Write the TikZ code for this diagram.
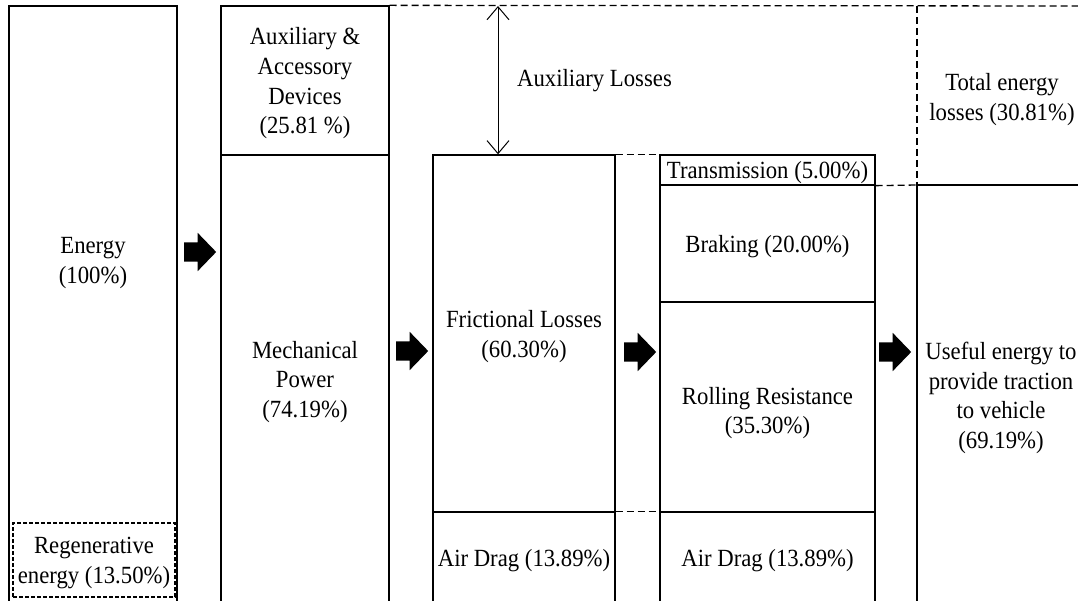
\documentclass[tikz,border=0pt]{standalone}
\usepackage{fontspec}
\setmainfont{Liberation Serif}[FakeStretch=0.92]
\usetikzlibrary{arrows.meta,shapes.arrows}
\newcommand\txtfont{\fontsize{24.7}{29.7}\selectfont}
\begin{document}
\begin{tikzpicture}[x=1pt,y=-1pt,
  box/.style={draw, line width=1.3pt, inner sep=0pt},
  lbl/.style={inner sep=0pt, align=center, font=\txtfont, yshift=-3pt},
  dashline/.style={line width=1.3pt, dash pattern=on 7pt off 4pt},
  solidline/.style={line width=1.3pt},
  fatarrow/.style={single arrow, fill=black, draw=none, minimum height=32pt,
     inner xsep=0pt, inner ysep=9.5pt, single arrow head extend=9.5pt, single arrow tip angle=92},
  barb/.style={line width=1pt, {Straight Barb[length=13pt,width=22pt]}-{Straight Barb[length=13pt,width=22pt]}}]
\clip (0,0) rectangle (1078,601);
\fill[white] (0,0) rectangle (1078,601);
% column 1
\node[box, minimum width=168pt, minimum height=597pt] (energy) at (93,304.5) {};
\node[lbl] (energytxt) at (93,260) {Energy\\(100\%)};
\node[box, dash pattern=on 4pt off 2pt, line width=1.1pt, minimum width=162pt, minimum height=74pt] (regen) at (94,560) {};
\node[lbl] (regentxt) at (regen.center) {Regenerative\\energy (13.50\%)};
% column 2
\node[box, minimum width=168pt, minimum height=149pt] (aux) at (305,80.5) {};
\node[lbl] (auxtxt) at (aux.center) {Auxiliary \&\\Accessory\\Devices\\(25.81 \%)};
\node[box, minimum width=168pt, minimum height=448pt] (mech) at (305,379) {};
\node[lbl] (mechtxt) at (mech.center) {Mechanical\\Power\\(74.19\%)};
% column 3
\node[box, minimum width=182pt, minimum height=357pt] (fric) at (524,333.5) {};
\node[lbl] (frictxt) at (fric.center) {Frictional Losses\\(60.30\%)};
\node[box, minimum width=182pt, minimum height=91pt] (air1) at (524,557.5) {};
\node[lbl] (air1txt) at (air1.center) {Air Drag (13.89\%)};
% column 4
\node[box, minimum width=215pt, minimum height=30pt] (trans) at (767.5,170) {};
\node[lbl] (transtxt) at (trans.center) {Transmission (5.00\%)};
\node[box, minimum width=215pt, minimum height=117pt] (brake) at (767.5,243.5) {};
\node[lbl] (braketxt) at (brake.center) {Braking (20.00\%)};
\node[box, minimum width=215pt, minimum height=210pt] (roll) at (767.5,407) {};
\node[lbl] (rolltxt) at ([yshift=-3pt]roll.center) {Rolling Resistance\\(35.30\%)};
\node[box, minimum width=215pt, minimum height=91pt] (air2) at (767.5,557.5) {};
\node[lbl] (air2txt) at (air2.center) {Air Drag (13.89\%)};
% column 5
\node[lbl] (total) at (1002,96.5) {Total energy\\losses (30.81\%)};
\node[lbl] (useful) at (1001,395) {Useful energy to\\provide traction\\to vehicle\\(69.19\%)};
% auxiliary losses
\coordinate (auxtop) at (498,6);
\node[lbl, anchor=west] (auxloss) at (517,78) {Auxiliary Losses};
\draw[barb] (auxtop) -- (auxtop |- fric.north);
% dashed / divider lines
\coordinate (tr) at (1078,6);
\coordinate (divtop) at (917,6);
\coordinate (divmid) at (917,185);
\coordinate (divbot) at (917,605);
\coordinate (midr) at (1078,185);
\draw[dashline] (aux.north east) -- (tr);
\draw[dashline] (divtop) -- (divmid);
\draw[dashline] (trans.south east) -- (divmid);
\draw[solidline] (divmid) -- (midr);
\draw[solidline] (divmid) -- (divbot);
\draw[dashline] (fric.north east) -- (trans.north west);
\draw[dashline] (air1.north east) -- (air2.north west);
% block arrows
\node[fatarrow] (ar1) at (195.5,252) {};
\node[fatarrow] (ar2) at (407.5,351) {};
\node[fatarrow] (ar3) at (635.5,352) {};
\node[fatarrow] (ar4) at (890.5,352) {};
\end{tikzpicture}
\end{document}
